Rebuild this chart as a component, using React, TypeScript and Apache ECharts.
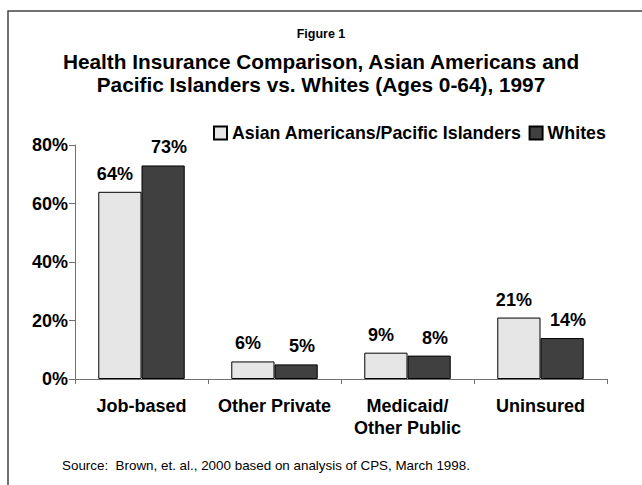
import React, { useEffect, useRef } from "react";
import * as echarts from "echarts";

const categories = ["Job-based", "Other Private", "Medicaid/\nOther Public", "Uninsured"];
const seriesNames = ["Asian Americans/Pacific Islanders", "Whites"];
const asianValues = [64, 6, 9, 21];
const whiteValues = [73, 5, 8, 14];
const yTicks = { min: 0, max: 80, interval: 20 };

const FONT = "Liberation Sans, Arial, sans-serif";

export default function App() {
  const ref = useRef<HTMLDivElement>(null);
  useEffect(() => {
    if (!ref.current) return;
    const chart = echarts.init(ref.current, null, { renderer: "svg" });
    const label = (dx: number) => ({
      show: true,
      position: "top",
      distance: 9,
      offset: [dx, 0],
      formatter: "{c}%",
      fontFamily: FONT,
      fontWeight: "bold",
      fontSize: 18,
      color: "#000",
    });
    chart.setOption({
      animation: false,
      backgroundColor: "#fff",
      textStyle: { fontFamily: FONT },
      title: [
        {
          text: "Figure 1",
          left: "center",
          top: 27,
          padding: 0,
          textStyle: { fontFamily: FONT, fontWeight: "bold", fontSize: 12.5, lineHeight: 14, color: "#000" },
        },
        {
          text: "Health Insurance Comparison, Asian Americans and\nPacific Islanders vs. Whites (Ages 0-64), 1997",
          left: "center",
          top: 50,
          padding: 0,
          textStyle: { fontFamily: FONT, fontWeight: "bold", fontSize: 20.8, lineHeight: 23, color: "#000", align: "center" },
        },
      ],
      legend: {
        left: 213,
        top: 124,
        padding: 0,
        itemWidth: 13,
        itemHeight: 13,
        itemGap: 7,
        icon: "rect",
        textStyle: { fontFamily: FONT, fontWeight: "bold", fontSize: 17.8, color: "#000" },
        data: seriesNames,
      },
      grid: { left: 75, right: 35, top: 145, bottom: 106, containLabel: false },
      xAxis: {
        type: "category",
        data: categories,
        axisLine: { lineStyle: { color: "#707070", width: 1 } },
        axisTick: { show: true, length: 5, lineStyle: { color: "#707070" } },
        axisLabel: {
          margin: 16,
          interval: 0,
          fontFamily: FONT,
          fontWeight: "bold",
          fontSize: 18,
          lineHeight: 22,
          color: "#000",
        },
      },
      yAxis: {
        type: "value",
        min: yTicks.min,
        max: yTicks.max,
        interval: yTicks.interval,
        splitLine: { show: false },
        axisLine: { show: true, lineStyle: { color: "#707070", width: 1 } },
        axisTick: { show: true, length: 6, lineStyle: { color: "#707070" } },
        axisLabel: {
          formatter: "{value}%",
          margin: 7,
          fontFamily: FONT,
          fontWeight: "bold",
          fontSize: 18,
          color: "#000",
        },
      },
      series: [
        {
          name: seriesNames[0],
          type: "bar",
          data: asianValues,
          barGap: "0%",
          barCategoryGap: "35%",
          itemStyle: { color: "#e6e6e6", borderColor: "#000", borderWidth: 1 },
          label: label(-5),
        },
        {
          name: seriesNames[1],
          type: "bar",
          data: whiteValues,
          itemStyle: { color: "#404040", borderColor: "#000", borderWidth: 1 },
          label: label(6),
        },
      ],
      graphic: [
        {
          type: "rect",
          shape: { x: 8, y: 11, width: 700, height: 600 },
          style: { fill: "none", stroke: "#444", lineWidth: 1.5 },
          silent: true,
          z: -1,
        },
        {
          type: "text",
          left: 62,
          top: 459,
          style: {
            text: "Source:  Brown, et. al., 2000 based on analysis of CPS, March 1998.",
            fontFamily: FONT,
            fontSize: 13.4,
            fill: "#000",
          },
        },
      ],
    });
    return () => chart.dispose();
  }, []);
  return (
    <div
      ref={ref}
      style={{ position: "fixed", left: 0, top: 0, width: 642, height: 485 }}
    />
  );
}
